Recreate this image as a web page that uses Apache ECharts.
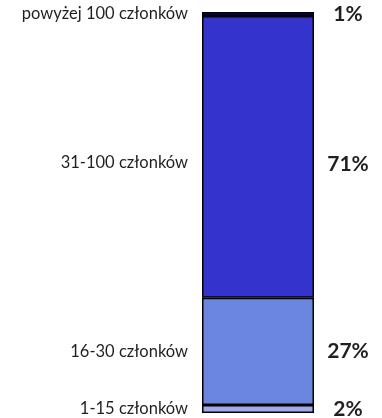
<!DOCTYPE html>
<html>
<head>
<meta charset="utf-8">
<script src="https://cdn.jsdelivr.net/npm/echarts@6/dist/echarts.min.js"></script>
<style>
html,body{margin:0;padding:0;background:#fff;}
#chart{width:382px;height:418px;}
</style>
</head>
<body>
<div id="chart"></div>
<script>
// bottom -> top
var groups = ['1-15 członków', '16-30 członków', '31-100 członków', 'powyżej 100 członków'];
var shares = [2, 27, 71, 1];
var colors = ['#a0a9ea', '#6b86de', '#3434cc', '#0b0b72'];

var total = shares.reduce(function (a, b) { return a + b; }, 0);
var chart = echarts.init(document.getElementById('chart'));

var series = [];
// transparent twins carrying the percent labels on the right
groups.forEach(function (g, i) {
    series.push({
        name: g + '_pct',
        type: 'bar',
        stack: 'pct',
        barWidth: '100%',
        barGap: '-100%',
        silent: true,
        itemStyle: { color: 'transparent', borderWidth: 0 },
        label: {
            show: true,
            position: ['100%', '50%'],
            offset: [34, i == 2 ? 7 : 0],
            align: 'center',
            verticalAlign: 'middle',
            fontFamily: 'Lato',
            fontWeight: 'bold',
            fontSize: 21,
            color: '#231f20',
            formatter: shares[i] + '%'
        },
        data: [shares[i]]
    });
});
// visible segments with group names on the left
groups.forEach(function (g, i) {
    series.push({
        name: g,
        type: 'bar',
        stack: 'main',
        barWidth: '100%',
        barGap: '-100%',
        itemStyle: { color: colors[i], borderColor: '#000', borderWidth: 1.5 },
        label: {
            show: true,
            position: 'left',
            distance: 14,
            offset: [0, i == 2 ? 6 : 0],
            fontFamily: 'Lato',
            fontSize: 16.5,
            color: '#231f20',
            formatter: g
        },
        data: [shares[i]]
    });
});

var option = {
    animation: false,
    grid: { left: 202, right: 68, top: 12, bottom: 5 },
    xAxis: {
        type: 'category',
        data: [''],
        show: false
    },
    yAxis: {
        type: 'value',
        min: 0,
        max: total,
        show: false
    },
    series: series
};
chart.setOption(option);
</script>
</body>
</html>
